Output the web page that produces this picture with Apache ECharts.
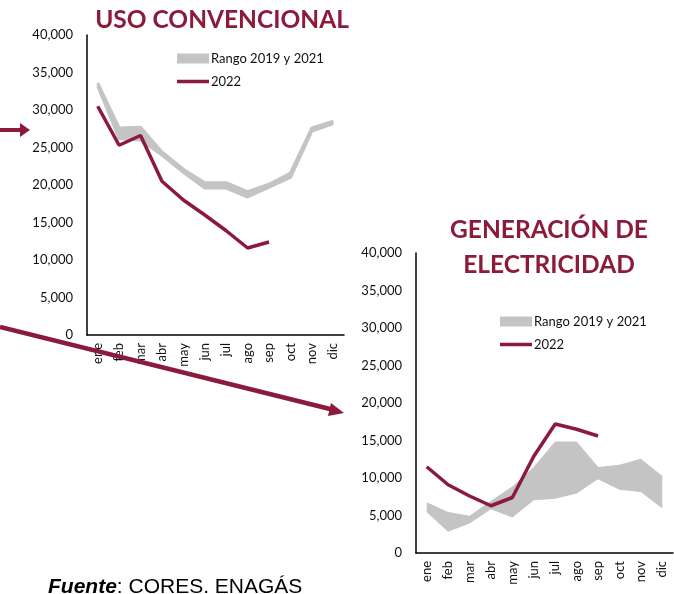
<!DOCTYPE html>
<html>
<head>
<meta charset="utf-8">
<script src="https://cdn.jsdelivr.net/npm/echarts@6/dist/echarts.min.js"></script>
<style>
  html, body { margin: 0; padding: 0; background: #fff; }
  #chart { width: 674px; height: 594px; }
</style>
</head>
<body>
<div id="chart"></div>
<script>
const months = ['ene', 'feb', 'mar', 'abr', 'may', 'jun', 'jul', 'ago', 'sep', 'oct', 'nov', 'dic']
const yTicks = [0, 5000, 10000, 15000, 20000, 25000, 30000, 35000, 40000]

// uso convencional
const usoMin = [33200, 26200, 26000, 24000, 21700, 19600, 19600, 18400, 19700, 21000, 27200, 28200]
const usoMax = [33600, 27600, 27700, 24400, 22100, 20300, 20300, 19100, 20100, 21600, 27600, 28500]
const uso2022 = [30500, 25300, 26600, 20500, 18000, 16000, 13900, 11600, 12400]

// generacion de electricidad
const genMin = [5500, 2900, 4000, 5900, 4800, 7100, 7300, 8000, 9900, 8500, 8200, 6000]
const genMax = [6700, 5400, 4900, 6900, 8800, 11400, 14800, 14800, 11400, 11700, 12500, 10200]
const gen2022 = [11500, 9100, 7600, 6300, 7400, 12900, 17200, 16500, 15600]

const red = '#8B1A3B'
const grey = '#c4c4c4'
const axisFont = 'Lato'

const fmt = (v) => String(v).replace(/\B(?=(\d{3})+(?!\d))/g, ',')

const xAxisOf = (gridIndex) => ({
  type: 'category',
  gridIndex: gridIndex,
  data: months,
  boundaryGap: true,
  axisLine: { show: true, lineStyle: { color: '#000', width: 1.5 } },
  axisTick: { show: false },
  axisLabel: { rotate: 90, margin: 8, color: '#111', fontSize: 13, fontFamily: axisFont, interval: 0 }
})

const yAxisOf = (gridIndex) => ({
  type: 'value',
  gridIndex: gridIndex,
  min: yTicks[0],
  max: yTicks[yTicks.length - 1],
  interval: yTicks[1] - yTicks[0],
  splitLine: { show: false },
  axisLine: { show: true, lineStyle: { color: '#000', width: 1.5 } },
  axisTick: { show: false },
  axisLabel: { margin: 14, color: '#111', fontSize: 13, fontFamily: axisFont, formatter: fmt }
})

const bandSeries = (idx, lo, hi, edge) => [
  {
    name: 'base' + idx,
    type: 'line',
    xAxisIndex: idx,
    yAxisIndex: idx,
    stack: 'band' + idx,
    data: lo,
    symbol: 'none',
    lineStyle: { color: grey, width: edge },
    silent: true
  },
  {
    name: 'Rango 2019 y 2021',
    type: 'line',
    xAxisIndex: idx,
    yAxisIndex: idx,
    stack: 'band' + idx,
    data: hi.map((v, i) => v - lo[i]),
    symbol: 'none',
    lineStyle: { color: grey, width: edge },
    itemStyle: { color: grey },
    areaStyle: { color: grey, opacity: 1 },
    silent: true
  }
]

const lineSeries = (idx, data) => ({
  name: '2022',
  type: 'line',
  xAxisIndex: idx,
  yAxisIndex: idx,
  data: data,
  symbol: 'none',
  itemStyle: { color: red },
  lineStyle: { color: red, width: 3.5 },
  z: 5
})

const legendOf = (left, top) => ({
  left: left,
  top: top,
  orient: 'vertical',
  itemWidth: 32,
  itemHeight: 10,
  itemGap: 10,
  symbolKeepAspect: true,
  selectedMode: false,
  textStyle: { color: '#111', fontSize: 13, fontFamily: axisFont, padding: [0, 0, 0, -3] },
  data: [
    { name: 'Rango 2019 y 2021', icon: 'rect' },
    { name: '2022', icon: 'path://M0,0H32V3.5H0Z' }
  ]
})

const titleStyle = {
  fill: red,
  font: 'bold 24.5px Lato',
  textAlign: 'center',
  textVerticalAlign: 'middle'
}

const option = {
  animation: false,
  backgroundColor: '#fff',
  grid: [
    { left: 87, top: 35, width: 257, height: 300 },
    { left: 416, top: 253, width: 257, height: 300 }
  ],
  xAxis: [xAxisOf(0), xAxisOf(1)],
  yAxis: [yAxisOf(0), yAxisOf(1)],
  legend: [legendOf(172, 47), legendOf(495, 310)],
  series: [
    ...bandSeries(0, usoMin, usoMax, 3),
    lineSeries(0, uso2022),
    ...bandSeries(1, genMin, genMax, 1),
    lineSeries(1, gen2022)
  ],
  graphic: [
    { type: 'text', x: 222, y: 20, style: Object.assign({ text: 'USO CONVENCIONAL' }, titleStyle) },
    { type: 'text', x: 549, y: 230, style: Object.assign({ text: 'GENERACIÓN DE' }, titleStyle) },
    { type: 'text', x: 549, y: 265, style: Object.assign({ text: 'ELECTRICIDAD' }, titleStyle) },
    // flechas
    { type: 'line', shape: { x1: 0, y1: 130, x2: 22, y2: 130 }, style: { stroke: red, lineWidth: 4 }, z: 10 },
    { type: 'polygon', shape: { points: [[20, 123], [30, 130], [20, 137]] }, style: { fill: red }, z: 10 },
    { type: 'line', shape: { x1: 0, y1: 327, x2: 334, y2: 410 }, style: { stroke: red, lineWidth: 4.5 }, z: 10 },
    { type: 'polygon', shape: { points: [[331, 403], [344, 413], [328, 416]] }, style: { fill: red }, z: 10 },
    {
      type: 'text',
      left: 48,
      top: 577,
      style: {
        text: '{b|Fuente}: CORES. ENAGÁS',
        font: '21px "Liberation Sans"',
        fill: '#000',
        rich: {
          b: { fontStyle: 'italic', fontWeight: 'bold', fontSize: 21, fontFamily: 'Liberation Sans' }
        }
      }
    }
  ]
}

const myChart = echarts.init(document.getElementById('chart'))
myChart.setOption(option)
</script>
</body>
</html>
